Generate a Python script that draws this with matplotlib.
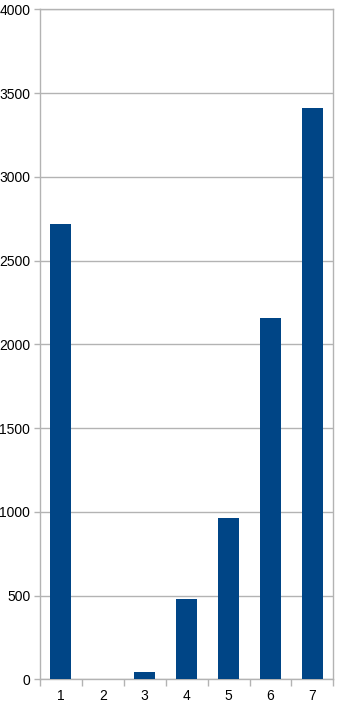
import matplotlib.pyplot as plt

categories = ["1", "2", "3", "4", "5", "6", "7"]
values = [2716, 2, 42, 479, 965, 2155, 3411]
y_ticks = [0, 500, 1000, 1500, 2000, 2500, 3000, 3500, 4000]

plt.rcParams['font.family'] = ['Liberation Sans', 'DejaVu Sans']

fig = plt.figure(figsize=(3.39, 7.08), dpi=100)
ax = fig.add_axes([40 / 339, 1 - 679.3 / 708, 293.3 / 339, 670 / 708])

xs = list(range(len(categories)))
ax.bar(xs, values, width=0.5, color='#004586', zorder=3)

ax.set_xlim(-0.5, len(categories) - 0.5)
ax.set_ylim(0, 4000)
ax.set_yticks(y_ticks)
ax.set_xticks(xs)
ax.set_xticklabels(categories)
# tick marks between categories
ax.set_xticks([x - 0.5 for x in xs] + [len(xs) - 0.5], minor=True)
ax.tick_params(axis='x', which='major', length=0, pad=7, labelsize=10)
ax.tick_params(axis='x', which='minor', length=5, color='#b3b3b3', width=1)
ax.tick_params(axis='y', length=4, color='#b3b3b3', width=1, pad=3, labelsize=10)

ax.grid(axis='y', color='#b3b3b3', linewidth=1, zorder=0)
for s in ax.spines.values():
    s.set_color('#b3b3b3')
    s.set_linewidth(1)

fig.savefig('out.png', dpi=100)
